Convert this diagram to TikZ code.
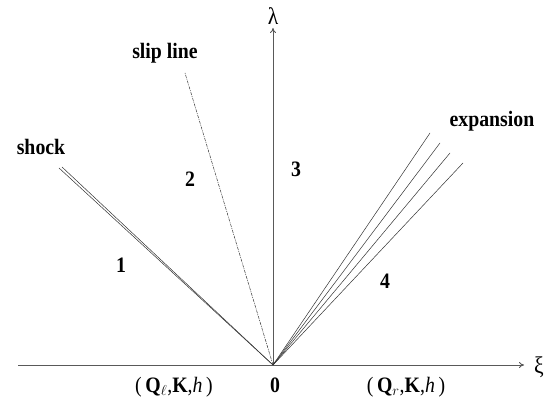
\documentclass[tikz,border=0pt]{standalone}
\usepackage{fontspec}
\setmainfont{Liberation Serif}[FakeStretch=0.9]
\usetikzlibrary{arrows.meta}
\begin{document}
\begin{tikzpicture}[x=1pt,y=-1pt,
  axis/.style={draw=black!65,line width=1pt,-{To[length=5pt,width=6pt]}},
  ray/.style={draw=black!80,line width=0.5pt},
  slipray/.style={draw=black!80,line width=0.5pt,dash pattern=on 3pt off 1pt on 1pt off 1pt},
  lbl/.style={font=\bfseries\fontsize{22}{26}\selectfont,anchor=base,inner sep=0pt},
  greek/.style={font=\fontsize{24}{28}\selectfont,inner sep=0pt}]
\useasboundingbox (0,0) rectangle (552,406);
% coordinates
\coordinate (O) at (273,365);
\coordinate (xl) at (18,365);
\coordinate (xr) at (524,365);
\coordinate (yt) at (273,28);
\coordinate (s1) at (59,168);
\coordinate (s2) at (62,167);
\coordinate (sl) at (185,73);
\coordinate (e1) at (430,133);
\coordinate (e2) at (440,143);
\coordinate (e3) at (450,153);
\coordinate (e4) at (463,163);
% axes
\draw[axis] (xl) -- (xr);
\draw[axis] (O) -- (yt);
% rays
\draw[ray] (O) -- (s1);
\draw[ray] (O) -- (s2);
\draw[slipray] (O) -- (sl);
\draw[ray] (O) -- (e1);
\draw[ray] (O) -- (e2);
\draw[ray] (O) -- (e3);
\draw[ray] (O) -- (e4);
% labels
\node[greek] (lam) at (273,16) {λ};
\node[greek] (xi) at (539,367) {ξ};
\node[lbl] (shock) at (41,155) {shock};
\node[lbl] (slip) at (165,59) {slip line};
\node[lbl] (expn) at (492,127) {expansion};
\node[lbl] (r1) at (121,273) {1};
\node[lbl] (r2) at (190,187) {2};
\node[lbl] (r3) at (296,177) {3};
\node[lbl] (r4) at (385,289) {4};
\node[lbl] (zero) at (275,392) {0};
\node[anchor=base,inner sep=0pt,font=\fontsize{22}{26}\selectfont] (ql) at (174,392) {(\,{\bfseries Q}$_{\ell}$,{\bfseries K},\textit{h}\,)};
\node[anchor=base,inner sep=0pt,font=\fontsize{22}{26}\selectfont] (qr) at (406,392) {(\,{\bfseries Q}$_{r}$,{\bfseries K},\textit{h}\,)};
\end{tikzpicture}
\end{document}
